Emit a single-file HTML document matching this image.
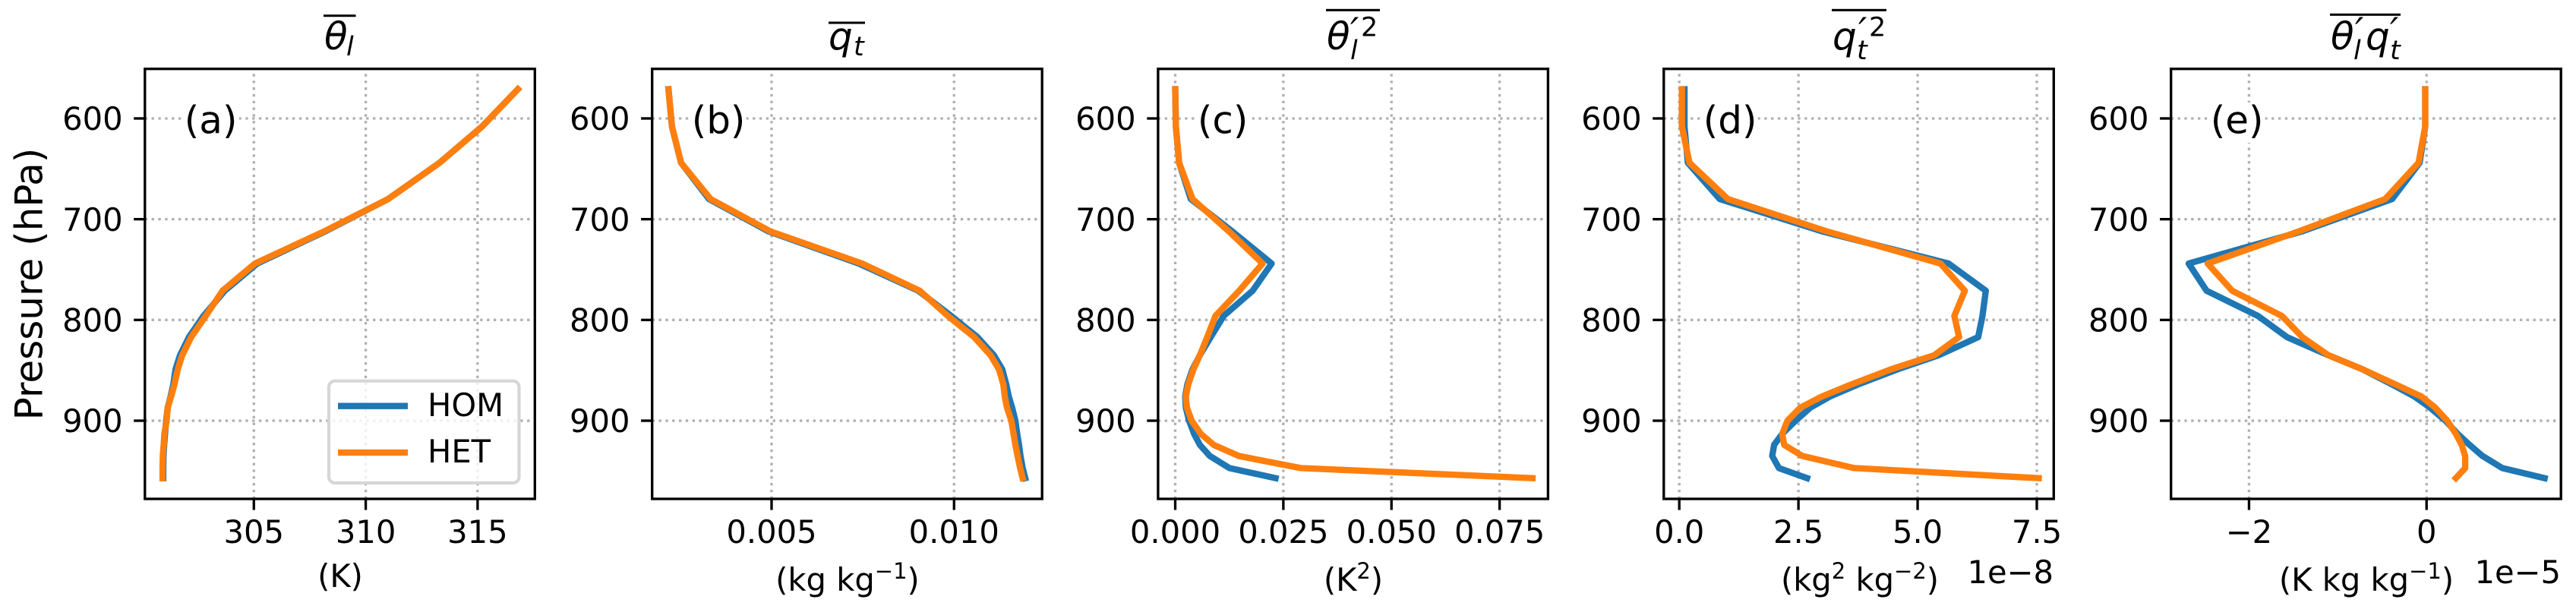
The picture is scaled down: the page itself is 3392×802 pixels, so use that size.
<!DOCTYPE html>
<html lang="en">
<head>
<meta charset="utf-8">
<title>Vertical profiles HOM vs HET</title>
<style>
  html, body { margin: 0; padding: 0; background: #fff; }
  svg { display: block; }
  text { font-family: "DejaVu Sans", "Liberation Sans", sans-serif; fill: #000; }
  .m { font-style: italic; }
</style>
</head>
<body>
<svg id="fig" xmlns="http://www.w3.org/2000/svg" width="3392" height="802" viewBox="0 0 3392 802">
  <rect x="0" y="0" width="3392" height="802" fill="#fff"/>
  <g id="plots"></g>

  <text font-size="50" text-anchor="middle" transform="translate(55.5 374) rotate(-90)">Pressure (hPa)</text>

  <g>
    <rect x="426" y="19.2" width="42.5" height="3" fill="#000"/>
    <text class="m" x="427" y="65" font-size="50">θ</text>
    <text class="m" x="456" y="73" font-size="35">l</text>
  </g>
  <g>
    <rect x="1091" y="28.5" width="48" height="3" fill="#000"/>
    <text class="m" x="1091" y="65" font-size="50">q</text>
    <text class="m" x="1124" y="73" font-size="35">t</text>
  </g>
  <g>
    <rect x="1746" y="11.8" width="71" height="3" fill="#000"/>
    <text class="m" x="1747" y="65" font-size="50">θ</text>
    <text class="m" x="1778" y="78" font-size="35">l</text>
    <text class="m" x="1778" y="59" font-size="50">′</text>
    <text x="1792" y="47.5" font-size="35">2</text>
  </g>
  <g>
    <rect x="2412" y="11.8" width="72" height="3" fill="#000"/>
    <text class="m" x="2413" y="65" font-size="50">q</text>
    <text class="m" x="2445" y="78" font-size="35">t</text>
    <text class="m" x="2447" y="59" font-size="50">′</text>
    <text x="2461" y="47.5" font-size="35">2</text>
  </g>
  <g>
    <rect x="3068" y="17.8" width="93" height="3" fill="#000"/>
    <text class="m" x="3069" y="65" font-size="50">θ</text>
    <text class="m" x="3099" y="78" font-size="35">l</text>
    <text class="m" x="3101" y="59" font-size="50">′</text>
    <text class="m" x="3115" y="65" font-size="50">q</text>
    <text class="m" x="3147" y="78" font-size="35">t</text>
    <text class="m" x="3147" y="59" font-size="50">′</text>
  </g>

  <text x="448" y="773" font-size="41.67" text-anchor="middle">(K)</text>
  <text x="1116" y="778" font-size="41.67" text-anchor="middle">(kg kg<tspan dy="-16" font-size="29">−1</tspan><tspan dy="16">)</tspan></text>
  <text x="1782" y="778" font-size="41.67" text-anchor="middle">(K<tspan dy="-16" font-size="29">2</tspan><tspan dy="16">)</tspan></text>
  <text x="2449" y="778" font-size="41.67" text-anchor="middle">(kg<tspan dy="-16" font-size="29">2</tspan><tspan dy="16"> kg</tspan><tspan dy="-16" font-size="29">−2</tspan><tspan dy="16">)</tspan></text>
  <text x="3116" y="778" font-size="41.67" text-anchor="middle">(K kg kg<tspan dy="-16" font-size="29">−1</tspan><tspan dy="16">)</tspan></text>

  <text x="2704" y="768" font-size="41.67" text-anchor="end">1e−8</text>
  <text x="3372" y="768" font-size="41.67" text-anchor="end">1e−5</text>

  <g>
    <rect x="433" y="501.7" width="250.5" height="134.3" rx="8" ry="8" fill="#fff" fill-opacity="0.8" stroke="#d6d6d6" stroke-width="4.17"/>
    <line x1="445" x2="537" y1="534.7" y2="534.7" stroke="#1f77b4" stroke-width="8.33"/>
    <text x="563" y="548" font-size="41.67">HOM</text>
    <line x1="445" x2="537" y1="596" y2="596" stroke="#ff7f0e" stroke-width="8.33"/>
    <text x="563" y="609" font-size="41.67">HET</text>
  </g>
</svg>
<script>
// Shared vertical coordinate (hPa)
const pressureLevels = [571,608,644,680,712,744,771,796,817,835,849,864,876,887,900,913,924,935,947,957];
const pressureTicks = [600,700,800,900];

// (a) mean theta_l (K)
const thetaHom = [316.8,315.2,313.3,311.0,308.2,305.15,303.7,302.75,302.1,301.7,301.5,301.4,301.28,301.15,301.08,301.03,300.99,300.96,300.95,300.95];
const thetaHet = [316.8,315.2,313.3,311.0,308.15,305.05,303.6,302.85,302.2,301.8,301.6,301.45,301.3,301.15,301.1,301.0,300.97,300.93,300.92,300.92];
const thetaTicks = [305,310,315];
const thetaTickLabels = ['305','310','315'];

// (b) mean q_t (kg/kg)
const qtHom = [0.002175,0.00227,0.00252,0.003285,0.00491,0.00739,0.00902,0.00992,0.01064,0.01109,0.01132,0.01143,0.0115,0.01159,0.01168,0.01173,0.01178,0.01182,0.01188,0.01195];
const qtHet = [0.002175,0.00227,0.00252,0.00333,0.00496,0.00748,0.00906,0.00983,0.01055,0.0110,0.01123,0.01135,0.01139,0.01145,0.01157,0.01163,0.01168,0.01174,0.01181,0.01188];
const qtTicks = [0.005,0.010];
const qtTickLabels = ['0.005','0.010'];

// (c) theta_l variance (K^2)
const thetaVarHom = [0,0.00015,0.0009,0.0036,0.01315,0.0223,0.0179,0.0112,0.0082,0.0057,0.004,0.0028,0.0023,0.00245,0.0032,0.00436,0.0057,0.008,0.01254,0.0232];
const thetaVarHet = [0,0.00015,0.0009,0.004,0.0124,0.0202,0.0148,0.0093,0.0074,0.0057,0.0042,0.003,0.00245,0.0027,0.0038,0.0059,0.0089,0.0147,0.029,0.0826];
const thetaVarTicks = [0,0.025,0.05,0.075];
const thetaVarTickLabels = ['0.000','0.025','0.050','0.075'];

// (d) q_t variance (1e-8 kg^2/kg^2)
const qtVarHom = [0.11,0.11,0.18,0.85,2.99,5.65,6.43,6.36,6.27,5.44,4.58,3.75,3.16,2.75,2.44,2.16,1.99,1.95,2.09,2.68];
const qtVarHet = [0.055,0.055,0.214,1.02,3.09,5.48,5.99,5.77,5.87,5.35,4.44,3.61,2.99,2.54,2.27,2.16,2.2,2.58,3.67,7.54];
const qtVarTicks = [0,2.5,5,7.5];
const qtVarTickLabels = ['0.0','2.5','5.0','7.5'];

// (e) theta_l q_t covariance (1e-5 K kg/kg)
const covHom = [-0.015,-0.015,-0.078,-0.388,-1.4,-2.68,-2.478,-1.9,-1.573,-1.107,-0.72,-0.388,-0.136,0.039,0.214,0.35,0.485,0.63,0.854,1.33];
const covHet = [-0.015,-0.015,-0.09,-0.466,-1.437,-2.466,-2.19,-1.63,-1.40,-1.107,-0.72,-0.35,-0.058,0.097,0.233,0.33,0.396,0.435,0.435,0.33];
const covTicks = [-2,0];
const covTickLabels = ['−2','0'];

// Panel layout (not data)
const plotTop = 90.7, plotBottom = 657.0, plotWidth = 513.5;
const yDomain = [550.8, 977.6];
const panels = [
  {id:'a', tag:'(a)', left:190.8,  xlim:[300.13,317.56],    hom:thetaHom,    het:thetaHet,    ticks:thetaTicks,    labels:thetaTickLabels},
  {id:'b', tag:'(b)', left:858.7,  xlim:[0.001727,0.012412],hom:qtHom,       het:qtHet,       ticks:qtTicks,       labels:qtTickLabels},
  {id:'c', tag:'(c)', left:1524.9, xlim:[-0.00397,0.08620], hom:thetaVarHom, het:thetaVarHet, ticks:thetaVarTicks, labels:thetaVarTickLabels},
  {id:'d', tag:'(d)', left:2190.8, xlim:[-0.325,7.855],     hom:qtVarHom,    het:qtVarHet,    ticks:qtVarTicks,    labels:qtVarTickLabels},
  {id:'e', tag:'(e)', left:2858.7, xlim:[-2.879,1.514],     hom:covHom,      het:covHet,      ticks:covTicks,      labels:covTickLabels}
];

const NS = 'http://www.w3.org/2000/svg';
const root = document.getElementById('plots');

function make(tag, parent, attrs, name) {
  const el = document.createElementNS(NS, tag);
  for (const k in attrs) el.setAttribute(k, attrs[k]);
  
  
  parent.appendChild(el);
  return el;
}

function yScale(p) {
  return plotTop + (p - yDomain[0]) / (yDomain[1] - yDomain[0]) * (plotBottom - plotTop);
}

panels.forEach(function (panel) {
  const left = panel.left, right = left + plotWidth;
  const xScale = function (v) {
    return left + (v - panel.xlim[0]) / (panel.xlim[1] - panel.xlim[0]) * plotWidth;
  };
  const g = make('g', root, {}, 'panel-' + panel.id);

  // grid
  const gridAttrs = {stroke:'#b0b0b0', 'stroke-width':3.33, 'stroke-dasharray':'3.33 5.5', fill:'none'};
  panel.ticks.forEach(function (t, i) {
    const x = xScale(t);
    make('line', g, Object.assign({x1:x, x2:x, y1:plotBottom, y2:plotTop}, gridAttrs), 'x-grid-line-' + panel.labels[i]);
  });
  pressureTicks.forEach(function (p) {
    const y = yScale(p);
    make('line', g, Object.assign({x1:left, x2:right, y1:y, y2:y}, gridAttrs), 'y-grid-line-' + p);
  });

  // white box behind panel tag
  make('rect', g, {x:left + 50, y:135, width:74, height:53, fill:'#fff'}, 'panel-label-background');

  // series
  const toPoints = function (vals) {
    return vals.map(function (v, i) {
      return xScale(v).toFixed(2) + ',' + yScale(pressureLevels[i]).toFixed(2);
    }).join(' ');
  };
  const lineAttrs = {fill:'none', 'stroke-width':8.33, 'stroke-linejoin':'round', 'stroke-linecap':'square'};
  make('polyline', g, Object.assign({points:toPoints(panel.hom), stroke:'#1f77b4'}, lineAttrs), 'series-hom-' + panel.id);
  make('polyline', g, Object.assign({points:toPoints(panel.het), stroke:'#ff7f0e'}, lineAttrs), 'series-het-' + panel.id);

  // panel tag
  const tag = make('text', g, {x:left + 52, y:175.7, 'font-size':50}, 'panel-label-' + panel.id);
  tag.textContent = panel.tag;

  // spines
  make('rect', g, {x:left, y:plotTop, width:plotWidth, height:plotBottom - plotTop, fill:'none', stroke:'#000', 'stroke-width':3.33}, 'axes-frame-' + panel.id);

  // x ticks
  panel.ticks.forEach(function (t, i) {
    const x = xScale(t);
    make('line', g, {x1:x, x2:x, y1:plotBottom, y2:plotBottom + 14.6, stroke:'#000', 'stroke-width':3.33}, 'x-tick-' + panel.labels[i]);
    const lab = make('text', g, {x:x, y:715, 'font-size':41.67, 'text-anchor':'middle'}, 'x-tick-label-' + panel.labels[i]);
    lab.textContent = panel.labels[i];
  });

  // y ticks
  pressureTicks.forEach(function (p) {
    const y = yScale(p);
    make('line', g, {x1:left - 14.6, x2:left, y1:y, y2:y, stroke:'#000', 'stroke-width':3.33}, 'y-tick-' + p);
    const lab = make('text', g, {x:left - 29.2, y:y + 15.2, 'font-size':41.67, 'text-anchor':'end'}, 'y-tick-label-' + p);
    lab.textContent = String(p);
  });
});
</script>
</body>
</html>
